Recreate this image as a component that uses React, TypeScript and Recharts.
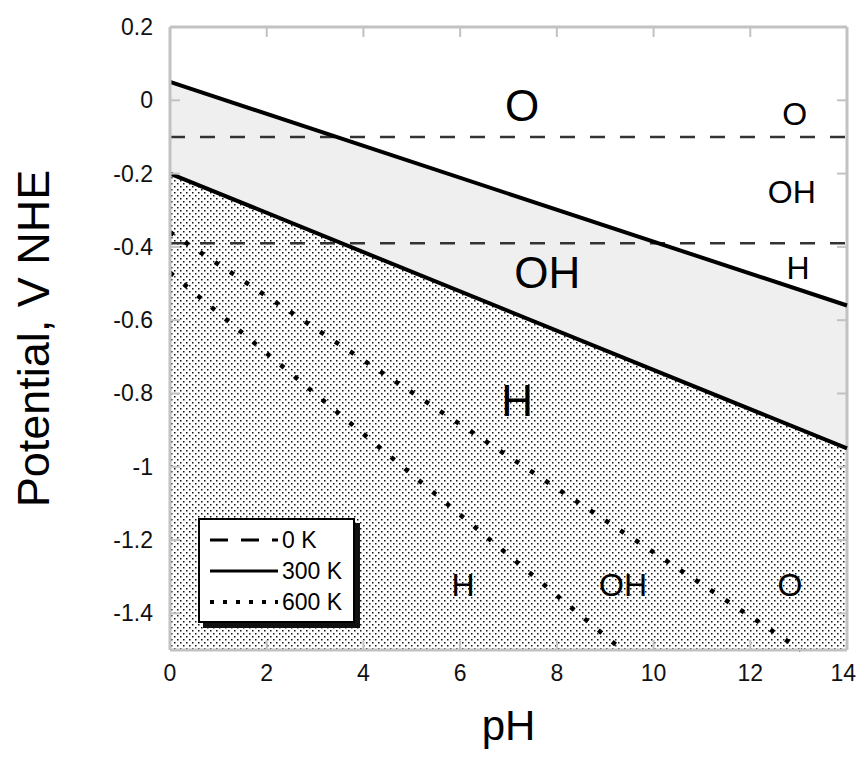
import React from "react";
import { ComposedChart, XAxis, YAxis, Area, Line, Scatter, Legend } from "recharts";

const FONT = '"Liberation Sans", Arial, Helvetica, sans-serif';

// ---- data ----
const phEnds = [0, 14];
const upper300K = [0.05, -0.56];
const lower300K = [-0.2, -0.95];
const floorV = [-1.5, -1.5];
const upper0K = [-0.1, -0.1];
const lower0K = [-0.39, -0.39];
const pH600A = [0, 13.05];
const v600A = [-0.36, -1.5];
const pH600B = [0, 9.35];
const v600B = [-0.47, -1.5];

const xDomain = [0, 14];
const yDomain = [-1.5, 0.2];
const xTicks = [0, 2, 4, 6, 8, 10, 12, 14];
const yTicks = [-1.4, -1.2, -1, -0.8, -0.6, -0.4, -0.2, 0, 0.2];

const labelText = ["O", "OH", "H", "O", "OH", "H", "H", "OH", "O"];
const labelPH = [7.28, 7.8, 7.18, 12.92, 12.86, 12.99, 6.06, 9.37, 12.82];
const labelV = [-0.013, -0.468, -0.818, -0.035, -0.25, -0.455, -1.322, -1.322, -1.322];
const labelKind = ["big", "big", "big", "small", "small", "small", "small", "small", "small"];

const legendNames = ["0 K", "300 K", "600 K"];

// ---- derived tables ----
const toPts = (xs: number[], vs: number[]) => xs.map((ph, i) => ({ ph, v: vs[i] }));
const regionData = phEnds.map((ph, i) => ({
  ph,
  band: [lower300K[i], upper300K[i]],
  stipple: [floorV[i], lower300K[i]],
}));
const labels = labelText.map((text, i) => ({ ph: labelPH[i], v: labelV[i], text, kind: labelKind[i] }));
// frame edges (top and right) with a point at every tick
const topEdge = xTicks.map((ph) => ({ ph, v: yDomain[1] }));
const rightEdge = [...yTicks].reverse().concat([yDomain[0]]).map((v) => ({ ph: xDomain[1], v }));

const GRID = "#c2c2c2";
const kindSize: Record<string, number> = { big: 44, small: 32 };
const legendDash = ["18 13", undefined, "4 9"];

const fmt = (v: number) => String(Math.round(v * 10) / 10);

const XTick = (props: any) => {
  const { x, y, payload, index } = props;
  const last = index === xTicks.length - 1;
  return (
    <g>
      <line x1={x} y1={y} x2={x} y2={y - 10} stroke={GRID} strokeWidth={2} />
      <text
        x={last ? x + 9 : x}
        y={y + 31}
        textAnchor={last ? "end" : "middle"}
        fontSize={23}
        fontFamily={FONT}
        fill="#111"
      >
        {fmt(payload.value)}
      </text>
    </g>
  );
};

const YTick = (props: any) => {
  const { x, y, payload } = props;
  return (
    <g>
      <line x1={x} y1={y} x2={x + 10} y2={y} stroke={GRID} strokeWidth={2} />
      <text x={x - 17} y={y + 8} textAnchor="end" fontSize={23} fontFamily={FONT} fill="#111">
        {fmt(payload.value)}
      </text>
    </g>
  );
};

const TopTickDot = (props: any) => {
  const { cx, cy, index } = props;
  return <line key={`tt${index}`} x1={cx} y1={cy} x2={cx} y2={cy + 10} stroke={GRID} strokeWidth={2} />;
};

const RightTickDot = (props: any) => {
  const { cx, cy, index } = props;
  if (index === rightEdge.length - 1) return <g key={`rt${index}`} />;
  return <line key={`rt${index}`} x1={cx} y1={cy} x2={cx - 10} y2={cy} stroke={GRID} strokeWidth={2} />;
};

const YTitle = (props: any) => {
  const vb = props.viewBox;
  const cx = vb.x + vb.width - 137;
  const cy = vb.y + vb.height / 2;
  return (
    <text
      x={cx}
      y={cy}
      transform={`rotate(-90 ${cx} ${cy})`}
      textAnchor="middle"
      dominantBaseline="central"
      fontSize={45}
      fontFamily={FONT}
      fill="#000"
    >
      Potential, V NHE
    </text>
  );
};

const XTitle = (props: any) => {
  const vb = props.viewBox;
  return (
    <text x={vb.x + vb.width / 2} y={vb.y + 90} textAnchor="middle" fontSize={42} fontFamily={FONT} fill="#000">
      pH
    </text>
  );
};

const RegionLabel = (props: any) => {
  const { cx, cy, payload } = props;
  const fs = kindSize[payload.kind];
  return (
    <text x={cx} y={cy + fs * 0.36} textAnchor="middle" fontSize={fs} fontFamily={FONT} fill="#000">
      {payload.text}
    </text>
  );
};

const LegendBox = () => (
  <div
    style={{
      width: 157,
      height: 105,
      boxSizing: "border-box",
      border: "2px solid #000",
      background: "#fff",
      boxShadow: "5px 5px 0 #111",
    }}
  >
    <svg width={153} height={101} style={{ display: "block" }}>
      {legendNames.map((n, i) => (
        <g key={n}>
          <line
            x1={10}
            x2={78}
            y1={20 + i * 31}
            y2={20 + i * 31}
            stroke="#000"
            strokeWidth={i === 2 ? 4 : 3}
            strokeDasharray={legendDash[i]}
          />
          <text x={82} y={20 + i * 31 + 8} fontSize={23} fontFamily={FONT} fill="#000">
            {n}
          </text>
        </g>
      ))}
    </svg>
  </div>
);

export default function App() {
  return (
    <div style={{ position: "relative", width: 848, height: 741 }}>
      <svg width={0} height={0} style={{ position: "absolute" }}>
        <defs>
          <pattern id="stip" width={6} height={6} patternUnits="userSpaceOnUse">
            <rect width={6} height={6} fill="#fff" />
            <rect x={1} y={1} width={1.5} height={1.5} fill="#111" />
            <rect x={4} y={4} width={1.5} height={1.5} fill="#111" />
          </pattern>
        </defs>
      </svg>
      <ComposedChart
        width={848}
        height={741}
        data={regionData}
        margin={{ top: 19, right: 9, left: 82, bottom: 39 }}
        style={{ fontFamily: FONT }}
      >
        <Area
          type="linear"
          dataKey="band"
          fill="#efefef"
          fillOpacity={1}
          stroke="none"
          isAnimationActive={false}
          activeDot={false}
        />
        <Area
          type="linear"
          dataKey="stipple"
          fill="url(#stip)"
          fillOpacity={1}
          stroke="none"
          isAnimationActive={false}
          activeDot={false}
        />
        <Line data={topEdge} dataKey="v" stroke={GRID} strokeWidth={3} dot={TopTickDot} activeDot={false} isAnimationActive={false} legendType="none" />
        <Line data={rightEdge} dataKey="v" stroke={GRID} strokeWidth={3} dot={RightTickDot} activeDot={false} isAnimationActive={false} legendType="none" />
        <Line data={toPts(phEnds, upper0K)} dataKey="v" stroke="#333" strokeWidth={2.4} strokeDasharray="15 15" dot={false} activeDot={false} isAnimationActive={false} />
        <Line data={toPts(phEnds, lower0K)} dataKey="v" stroke="#333" strokeWidth={2.4} strokeDasharray="15 15" dot={false} activeDot={false} isAnimationActive={false} />
        <Line data={toPts(phEnds, upper300K)} dataKey="v" stroke="#000" strokeWidth={4} dot={false} activeDot={false} isAnimationActive={false} />
        <Line data={toPts(phEnds, lower300K)} dataKey="v" stroke="#000" strokeWidth={4} dot={false} activeDot={false} isAnimationActive={false} />
        <Line data={toPts(pH600A, v600A)} dataKey="v" stroke="#000" strokeWidth={4.5} strokeDasharray="4.5 13.5" dot={false} activeDot={false} isAnimationActive={false} />
        <Line data={toPts(pH600B, v600B)} dataKey="v" stroke="#000" strokeWidth={4.5} strokeDasharray="4.5 13.5" dot={false} activeDot={false} isAnimationActive={false} />
        <Scatter data={labels} dataKey="v" shape={RegionLabel} isAnimationActive={false} />
        <XAxis
          dataKey="ph"
          type="number"
          domain={xDomain}
          ticks={xTicks}
          interval={0}
          height={60}
          tickLine={false}
          tickSize={0}
          tickMargin={0}
          axisLine={{ stroke: GRID, strokeWidth: 3 }}
          tick={<XTick />}
          label={{ content: XTitle }}
        />
        <YAxis
          type="number"
          domain={yDomain}
          ticks={yTicks}
          interval={0}
          width={80}
          tickLine={false}
          tickSize={0}
          tickMargin={0}
          axisLine={{ stroke: GRID, strokeWidth: 3 }}
          tick={<YTick />}
          label={{ content: YTitle }}
        />
        <Legend
          content={LegendBox}
          verticalAlign="middle"
          align="center"
          layout="horizontal"
          wrapperStyle={{ left: 190, top: 510, width: 157, height: 105 }}
        />
      </ComposedChart>
    </div>
  );
}
